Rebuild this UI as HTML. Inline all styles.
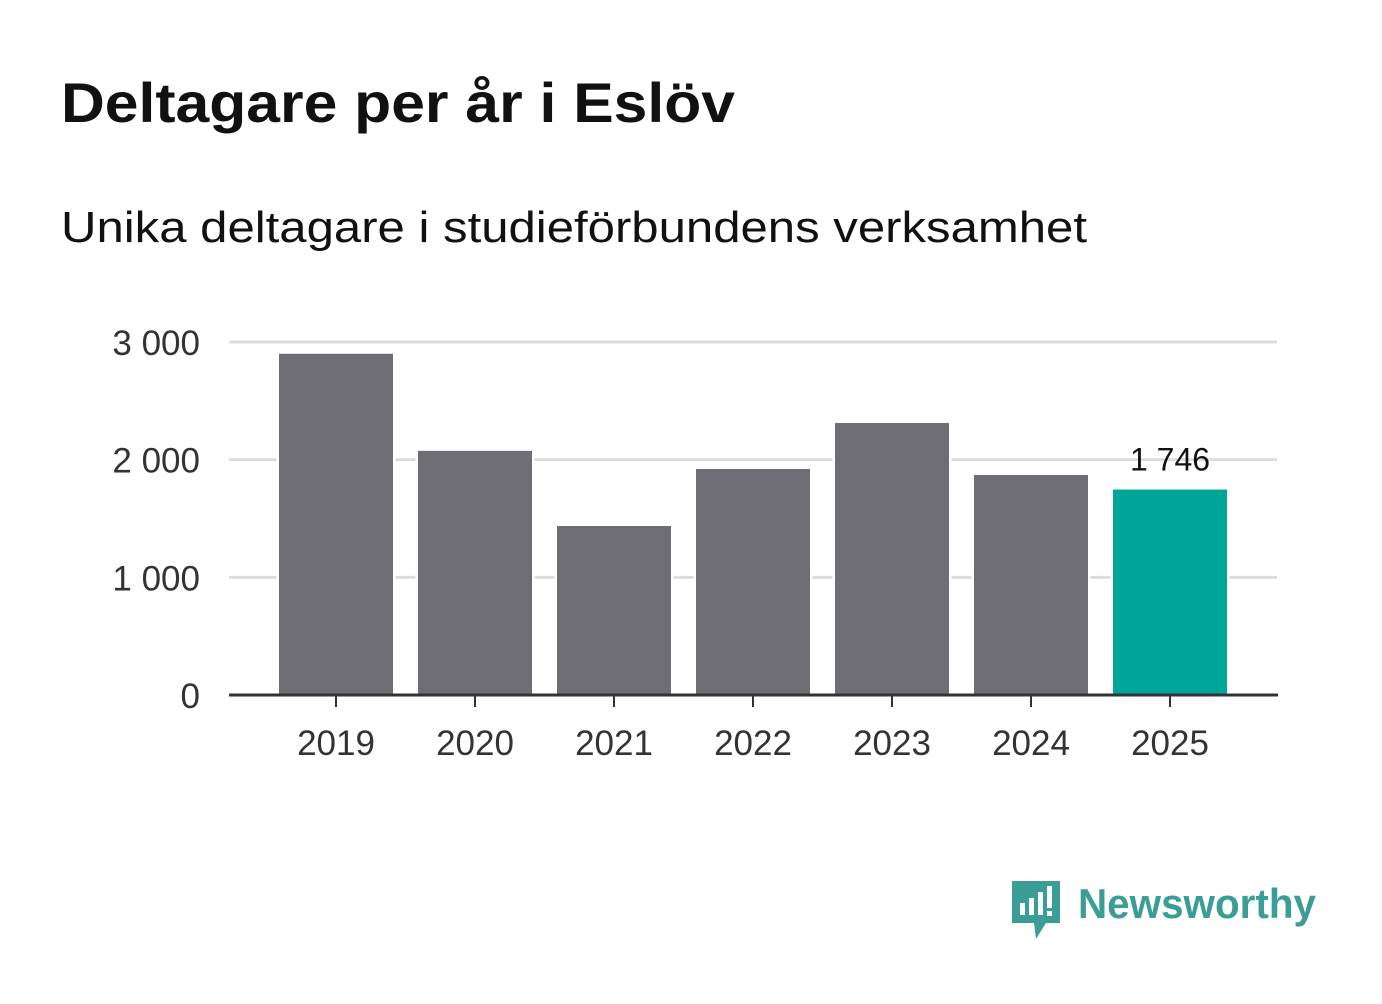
<!DOCTYPE html>
<html><head><meta charset="utf-8"><style>
body{margin:0;background:#fff;font-family:"Liberation Sans",sans-serif;}
</style></head><body>
<svg width="1382" height="999" xmlns="http://www.w3.org/2000/svg">
<rect width="1382" height="999" fill="#fff"/>
<text x="61" y="122" font-size="56" font-weight="bold" fill="#111" textLength="674" lengthAdjust="spacingAndGlyphs">Deltagare per år i Eslöv</text>
<text x="61" y="242" font-size="44" fill="#111" textLength="1026" lengthAdjust="spacingAndGlyphs">Unika deltagare i studieförbundens verksamhet</text>
<g id="grid"></g>
<g id="bars"></g>
<g id="xlabels"></g>
<line x1="229" y1="695" x2="1278" y2="695" stroke="#333" stroke-width="3"/>
<g>
<path d="M1012 881 h48 v42 h-14 l-10 16 l-2 -16 h-22 z" fill="#3a9e96"/>
<rect x="1020" y="903" width="5" height="12" fill="#fff"/>
<rect x="1029" y="898" width="5" height="17" fill="#fff"/>
<rect x="1038" y="892" width="5" height="23" fill="#fff"/>
<rect x="1047" y="886" width="5" height="22" fill="#fff"/>
<rect x="1047" y="911" width="5" height="5" fill="#fff"/>
<text x="1078" y="918" font-size="42" font-weight="bold" fill="#3a9e96" textLength="238" lengthAdjust="spacingAndGlyphs">Newsworthy</text>
</g>
</svg>
<script>
const years=["2019","2020","2021","2022","2023","2024","2025"];
const values=[2900,2075,1436,1921,2312,1870,1746];
const ticks=[0,1000,2000,3000];
const tickLabels=["0","1 000","2 000","3 000"];
const ns="http://www.w3.org/2000/svg";
const y0=695,pxPer=353/3000;
const y=v=>y0-v*pxPer;
const x=i=>336+i*139;
const bw=114;
function mk(t,a,p){const e=document.createElementNS(ns,t);for(const k in a)e.setAttribute(k,a[k]);p.appendChild(e);return e;}
const g=document.getElementById('grid'),b=document.getElementById('bars'),xl=document.getElementById('xlabels');
ticks.forEach((t,i)=>{
 if(t>0){const l=mk('line',{x1:229,x2:1277,y1:y(t),y2:y(t),stroke:'#ddd','stroke-width':3},g);
 
 }
 const tx=mk('text',{x:200,y:y(t)+13,'font-size':35,fill:'#333','text-anchor':'end'},g);
 tx.textContent=tickLabels[i];
 
 
});
years.forEach((yr,i)=>{
 const last=i===years.length-1;
 const r=mk('rect',{x:x(i)-bw/2,y:y(values[i]),width:bw,height:y0-y(values[i]),fill:last?'#00a599':'#6e6d73',stroke:'#fff','stroke-width':5,'paint-order':'stroke'},b);
 
 
 const tk=mk('line',{x1:x(i),x2:x(i),y1:695,y2:707,stroke:'#333','stroke-width':2},xl);
 
 
 const t=mk('text',{x:x(i),y:755,'font-size':35,fill:'#333','text-anchor':'middle'},xl);
 t.textContent=yr;
 
 
 if(last){
  const v=mk('text',{x:x(i),y:y(values[i])-19,'font-size':32,fill:'#111','text-anchor':'middle'},b);
  v.textContent=values[i].toLocaleString('sv-SE').replace(/\s/g,' ');
  
  
 }
});
</script>
</body></html>
